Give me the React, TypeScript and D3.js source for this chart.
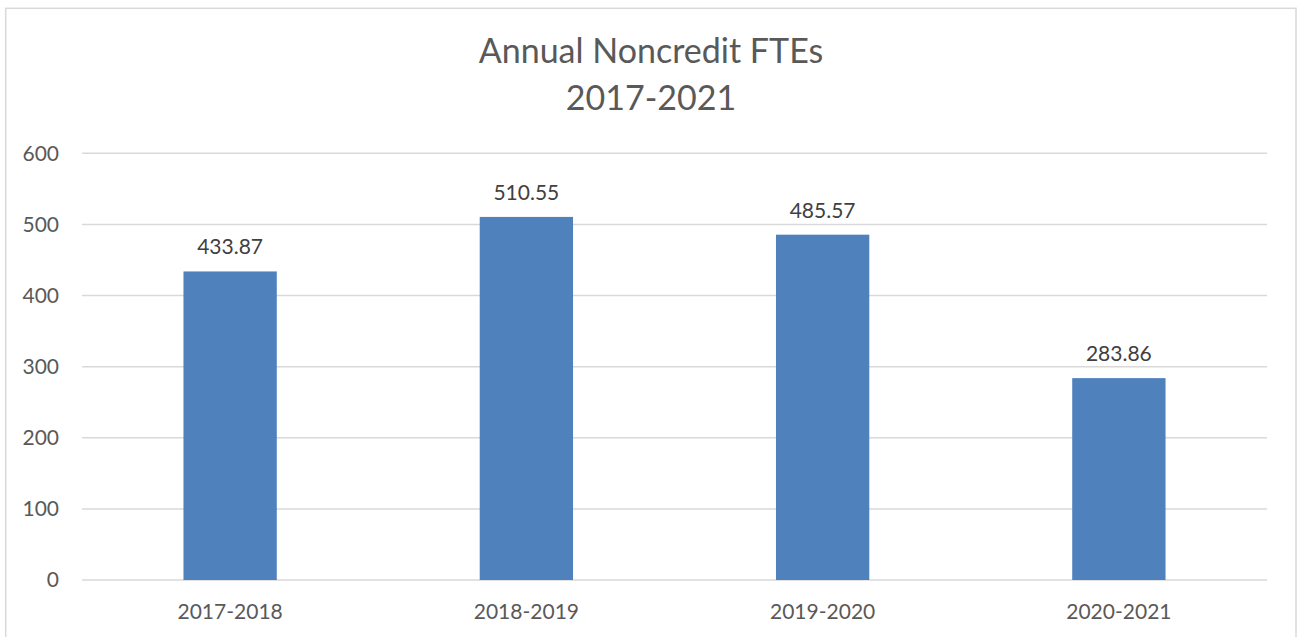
import React from "react";
import * as d3 from "d3";

const categories = ["2017-2018", "2018-2019", "2019-2020", "2020-2021"];
const values = [433.87, 510.55, 485.57, 283.86];
const yTicks = [0, 100, 200, 300, 400, 500, 600];
const titleLines = ["Annual Noncredit FTEs", "2017-2021"];

const W = 1299;
const H = 637;
const FONT = "Lato, 'Open Sans', sans-serif";

export default function App() {
  const x = d3.scaleBand<string>().domain(categories).range([82, 1267]).paddingInner(0.685).paddingOuter(0.3425);
  const y = d3.scaleLinear().domain([0, 600]).range([580, 153.3]);
  const step = x.step();
  const bw = step * 0.315;

  return (
    <svg width={W} height={H} style={{ position: "absolute", left: 0, top: 0, background: "#fff" }}>
      <rect x={5.7} y={8.3} width={1290.3} height={H} fill="#fff" stroke="#d9d9d9" strokeWidth={1.5} />
      {titleLines.map((t, i) => (
        <text key={t} x={651} y={63 + i * 47} textAnchor="middle" fontFamily={FONT} fontSize={34} fill="#595959">
          {t}
        </text>
      ))}
      {yTicks.map((t) => (
        <g key={t}>
          <line x1={82} x2={1267} y1={y(t)} y2={y(t)} stroke="#d9d9d9" strokeWidth={1.5} />
          <text x={59} y={y(t)} dy="0.35em" textAnchor="end" fontFamily={FONT} fontSize={21} fill="#595959">
            {t}
          </text>
        </g>
      ))}
      {categories.map((c, i) => {
        const cx = (x(c) as number) + x.bandwidth() / 2;
        return (
          <g key={c}>
            <rect x={cx - bw / 2} y={y(values[i])} width={bw} height={y(0) - y(values[i])} fill="#4f81bd" />
            <text x={cx} y={y(values[i]) - 17} textAnchor="middle" fontFamily={FONT} fontSize={21} fill="#404040">
              {values[i].toFixed(2)}
            </text>
            <text x={cx} y={619} textAnchor="middle" fontFamily={FONT} fontSize={21} fill="#595959">
              {c}
            </text>
          </g>
        );
      })}
    </svg>
  );
}
